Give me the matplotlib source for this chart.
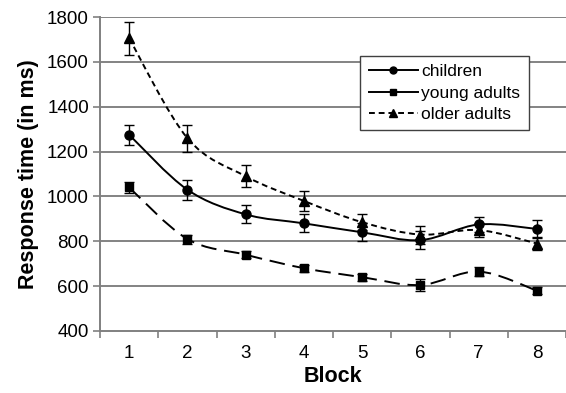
import matplotlib

matplotlib.use("Agg")

import matplotlib.pyplot as plt
import numpy as np
from matplotlib.lines import Line2D
from matplotlib.patches import PathPatch
from matplotlib.path import Path

plt.rcParams["font.family"] = ["Liberation Sans", "DejaVu Sans"]

blocks = [1, 2, 3, 4, 5, 6, 7, 8]
children = [1275, 1030, 920, 880, 840, 805, 875, 855]
children_err = [45, 45, 40, 40, 40, 40, 35, 40]
young = [1040, 810, 740, 680, 640, 605, 665, 580]
young_err = [25, 20, 15, 15, 15, 25, 20, 15]
older = [1705, 1260, 1090, 980, 885, 830, 850, 790]
older_err = [75, 60, 50, 45, 35, 40, 30, 30]


def smooth_path(x, y):
    # Excel-style smoothed line: cubic Bezier through each point
    pts = np.column_stack([x, y]).astype(float)
    n = len(pts)
    verts = [pts[0]]
    codes = [Path.MOVETO]
    for i in range(n - 1):
        p0 = pts[max(i - 1, 0)]
        p1 = pts[i]
        p2 = pts[i + 1]
        p3 = pts[min(i + 2, n - 1)]
        c1 = p1 + (p2 - p0) / 6.0
        c2 = p2 - (p3 - p1) / 6.0
        verts += [c1, c2, p2]
        codes += [Path.CURVE4] * 3
    return Path(verts, codes)


fig = plt.figure(figsize=(5.66, 3.93), dpi=100)
ax = fig.add_axes([0.1767, 0.1578, 0.8233, 0.7989])

for yv in range(600, 1801, 200):
    ax.axhline(yv, color="#6e6e6e", lw=1.2, zorder=0)

series = [
    (children, children_err, "o", 6.5, (0, ()), "children"),
    (young, young_err, "s", 5.5, (0, (8, 4)), "young adults"),
    (older, older_err, "^", 7.5, (0, (3, 2)), "older adults"),
]
handles = []
for vals, errs, marker, ms, dash, label in series:
    patch = PathPatch(smooth_path(blocks, vals), facecolor="none", edgecolor="black",
                      lw=1.4, linestyle=dash, zorder=2)
    ax.add_patch(patch)
    ax.errorbar(blocks, vals, yerr=errs, fmt=marker, color="black", ms=ms,
                ecolor="black", elinewidth=1.0, capsize=3.5, capthick=1.0, zorder=3)
    older_style = label == "older adults"
    handles.append(Line2D([], [], color="black", lw=1.4, marker=marker, ms=ms - 1.5,
                          linestyle="--" if older_style else "-",
                          dashes=(3, 2) if older_style else (None, None),
                          label=label))

ax.set_xlim(0.5, 8.5)
ax.set_ylim(400, 1800)
ax.set_yticks(range(400, 1801, 200))
ax.set_xticks(blocks)
ax.set_xticks(np.arange(0.5, 8.6, 1.0), minor=True)
ax.tick_params(axis="x", which="major", length=0, labelsize=13.5, pad=10)
ax.tick_params(axis="x", which="minor", length=5, color="#808080", width=1.2, direction="out")
ax.tick_params(axis="y", length=5, color="#808080", width=1.2, labelsize=13.5, pad=3)

for side in ["top", "right"]:
    ax.spines[side].set_visible(False)
for side in ["left", "bottom"]:
    ax.spines[side].set_color("#808080")
    ax.spines[side].set_linewidth(1.4)

ax.set_xlabel("Block", fontsize=15.5, fontweight="bold", labelpad=3)
ax.set_ylabel("Response time (in ms)", fontsize=15.5, fontweight="bold", labelpad=6)

leg = ax.legend(handles=handles, loc="upper left", bbox_to_anchor=(0.54, 0.905),
                fontsize=12.5, frameon=True, fancybox=False, edgecolor="#404040",
                framealpha=1, handlelength=2.8, handletextpad=0.2, labelspacing=0.35,
                borderpad=0.5)
leg.get_frame().set_linewidth(1.0)

fig.savefig("out.png", dpi=100)
